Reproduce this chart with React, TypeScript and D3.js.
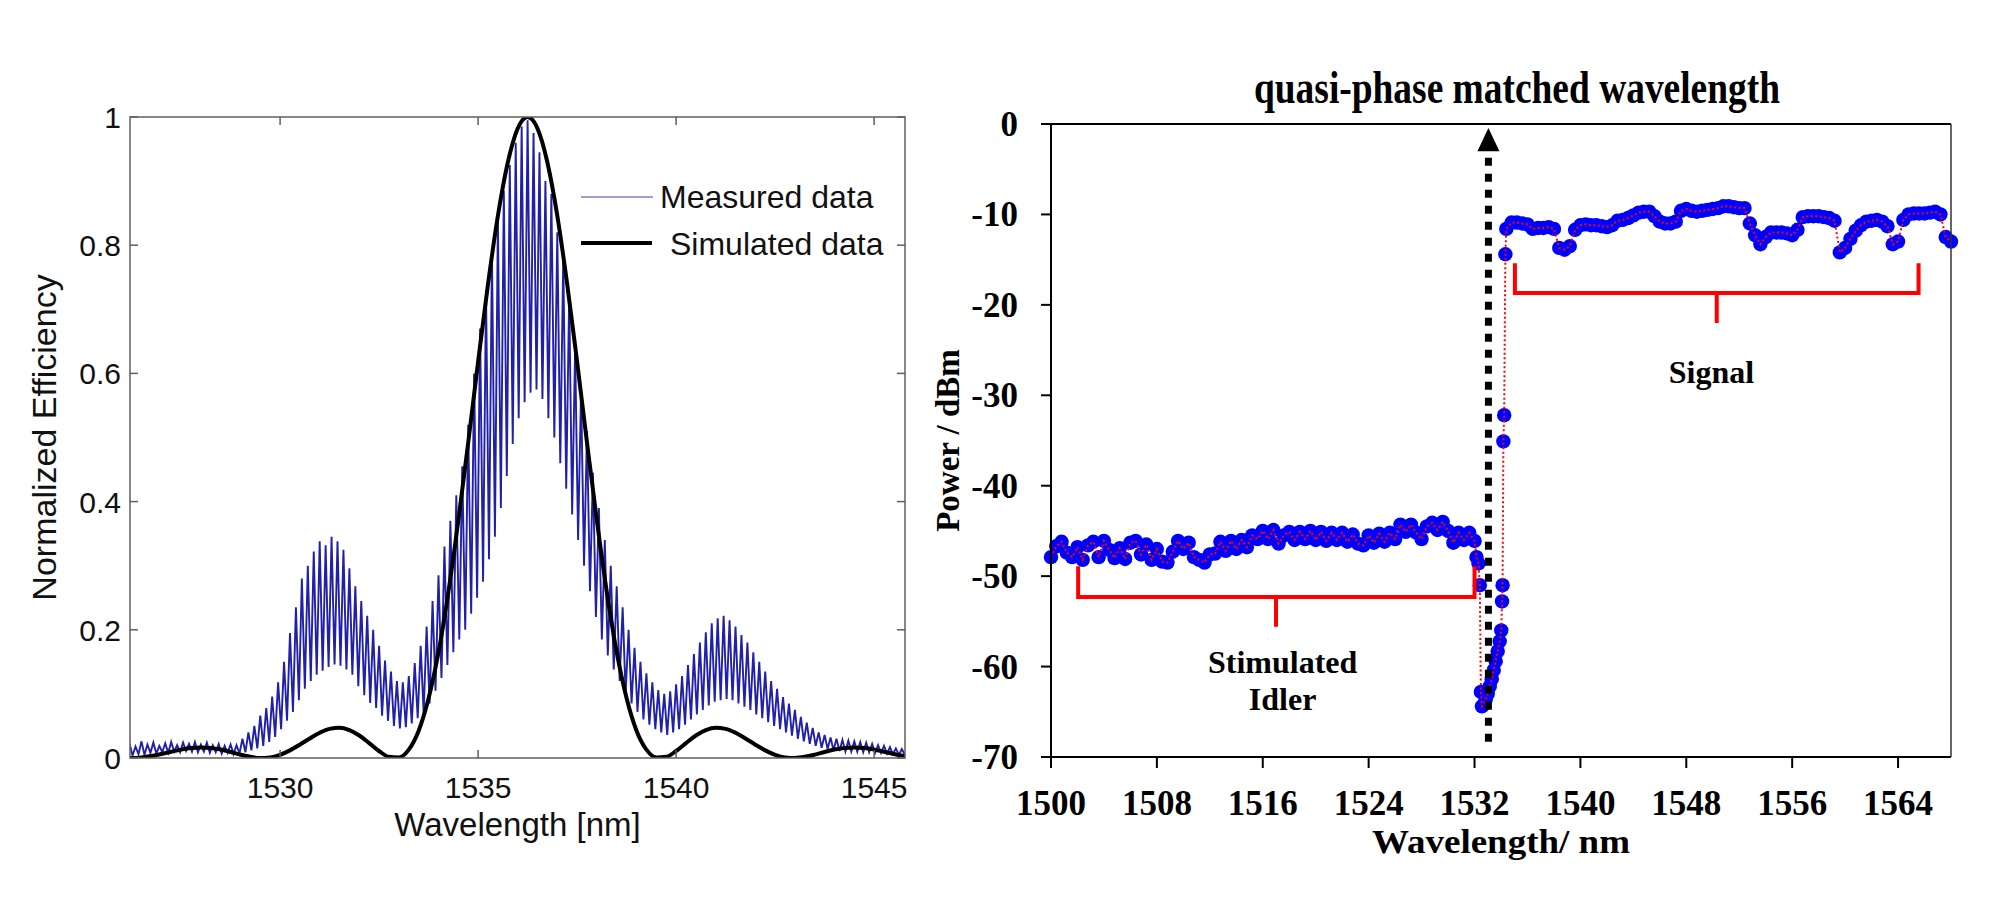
import React from "react";
import * as d3 from "d3";

// ---------- Left panel: normalized conversion efficiency ----------
const effXTicks = [1530, 1535, 1540, 1545];
const effYTicks = [0, 0.2, 0.4, 0.6, 0.8, 1];
const effYTickLabels = ["0", "0.2", "0.4", "0.6", "0.8", "1"];

// simulated sinc^2 response, sampled every 0.25 nm from 1526.0 nm
const simStart = 1526.0;
const simStep = 0.25;
const simulated = [
  0.0004, 0.0, 0.0009, 0.0031, 0.0062, 0.0098, 0.0131, 0.0155, 0.0165, 0.0157,
  0.0132, 0.0094, 0.0052, 0.0018, 0.0001, 0.0009, 0.005, 0.0119, 0.0208, 0.0305,
  0.0394, 0.0455, 0.0471, 0.0435, 0.0351, 0.0233, 0.0109, 0.0018, 0.0009, 0.0131,
  0.0426, 0.0931, 0.165, 0.259, 0.37, 0.492, 0.618, 0.739, 0.846, 0.929,
  0.982, 1.0, 0.982, 0.929, 0.846, 0.739, 0.618, 0.492, 0.37, 0.259,
  0.165, 0.0931, 0.0426, 0.0131, 0.0009, 0.0018, 0.0109, 0.0233, 0.0351, 0.0435,
  0.0471, 0.0455, 0.0394, 0.0305, 0.0208, 0.0119, 0.005, 0.0009, 0.0001, 0.0018,
  0.0052, 0.0094, 0.0132, 0.0157, 0.0165, 0.0155, 0.0131, 0.0098, 0.0062, 0.0031,
  0.0009,
];

// measured fringes: one maximum every 0.15 nm from 1526.2 nm, minimum halfway between
const fringeStart = 1526.2;
const fringeStep = 0.15;
const measuredPeak = [
  0.022, 0.018, 0.026, 0.021, 0.024, 0.019, 0.023, 0.025, 0.02, 0.024,
  0.022, 0.025, 0.021, 0.024, 0.02, 0.022, 0.019, 0.021, 0.02, 0.03,
  0.04, 0.05, 0.066, 0.078, 0.096, 0.118, 0.15, 0.195, 0.235, 0.28,
  0.3, 0.322, 0.338, 0.332, 0.345, 0.338, 0.325, 0.296, 0.268, 0.245,
  0.222, 0.2, 0.175, 0.152, 0.135, 0.12, 0.118, 0.128, 0.148, 0.175,
  0.205, 0.245, 0.285, 0.33, 0.37, 0.41, 0.455, 0.52, 0.6, 0.67,
  0.73, 0.79, 0.84, 0.885, 0.925, 0.96, 0.985, 0.995, 0.975, 0.945,
  0.9, 0.88, 0.82, 0.78, 0.72, 0.64, 0.575, 0.51, 0.445, 0.39,
  0.34, 0.3, 0.268, 0.235, 0.2, 0.172, 0.15, 0.132, 0.118, 0.106,
  0.1, 0.104, 0.115, 0.128, 0.145, 0.162, 0.18, 0.196, 0.21, 0.218,
  0.222, 0.215, 0.205, 0.192, 0.18, 0.165, 0.15, 0.135, 0.12, 0.108,
  0.095, 0.085, 0.075, 0.064, 0.055, 0.047, 0.04, 0.036, 0.032, 0.03,
  0.028, 0.027, 0.026, 0.025, 0.024, 0.022, 0.02, 0.019, 0.017, 0.015,
  0.014,
];
const measuredDip = [
  0.004, 0.006, 0.005, 0.008, 0.007, 0.009, 0.008, 0.01, 0.009, 0.011,
  0.01, 0.009, 0.01, 0.008, 0.009, 0.007, 0.008, 0.006, 0.007, 0.009,
  0.012, 0.015, 0.019, 0.025, 0.033, 0.045, 0.058, 0.072, 0.09, 0.108,
  0.12, 0.13, 0.136, 0.142, 0.146, 0.144, 0.138, 0.13, 0.112, 0.098,
  0.086, 0.078, 0.066, 0.058, 0.05, 0.046, 0.048, 0.054, 0.062, 0.07,
  0.085, 0.105, 0.125, 0.145, 0.165, 0.185, 0.2, 0.225, 0.25, 0.275,
  0.31, 0.345, 0.39, 0.44, 0.49, 0.53, 0.555, 0.57, 0.575, 0.56,
  0.53, 0.5, 0.46, 0.42, 0.38, 0.34, 0.3, 0.26, 0.22, 0.185,
  0.16, 0.138, 0.12, 0.1, 0.085, 0.072, 0.06, 0.052, 0.045, 0.04,
  0.036, 0.04, 0.045, 0.052, 0.06, 0.068, 0.075, 0.082, 0.088, 0.09,
  0.092, 0.09, 0.085, 0.08, 0.075, 0.068, 0.062, 0.056, 0.05, 0.045,
  0.04, 0.035, 0.03, 0.026, 0.022, 0.019, 0.016, 0.014, 0.012, 0.011,
  0.01, 0.01, 0.01, 0.009, 0.009, 0.008, 0.008, 0.007, 0.006, 0.005,
  0.005,
];

// ---------- Right panel: output power spectrum ----------
const powXTicks = [1500, 1508, 1516, 1524, 1532, 1540, 1548, 1556, 1564];
const powYTicks = [0, -10, -20, -30, -40, -50, -60, -70];

// idler band, one sample every 0.4 nm from 1500 nm
const idlerStart = 1500;
const idlerStep = 0.4;
const idlerPower = [
  -47.9, -46.7, -46.2, -47.4, -47.9, -46.8, -48.2, -46.6, -46.2, -47.9,
  -46.1, -47.1, -48.0, -46.9, -48.1, -46.3, -46.1, -47.6, -46.5, -48.2,
  -47.0, -48.4, -48.5, -47.3, -46.1, -47.0, -46.3, -47.9, -48.2, -48.5,
  -47.6, -47.5, -46.2, -47.2, -46.1, -47.0, -46.0, -46.8, -45.5, -45.9,
  -45.0, -45.9, -44.9, -46.4, -45.5, -45.1, -46.0, -45.1, -45.9, -45.0,
  -46.0, -45.1, -46.1, -45.2, -46.0, -45.2, -46.2, -45.4, -46.4, -46.6,
  -45.5, -46.3, -45.3, -46.2, -45.2, -45.9, -44.3, -45.1, -44.3, -45.2,
  -45.9, -44.5, -44.1, -44.9, -44.0, -45.0, -46.3, -45.2, -46.0, -45.2,
  -46.1,
];

// samples around the pump / phase-matching edge
const edgeWl = [
  1532.15, 1532.3, 1532.4, 1532.48, 1532.56, 1532.7, 1532.85, 1533.0, 1533.15, 1533.3,
  1533.45, 1533.6, 1533.75, 1533.9, 1534.02, 1534.08, 1534.12, 1534.18, 1534.24, 1534.33,
];
const edgePower = [
  -47.9, -48.6, -51.0, -62.8, -64.4, -64.2, -63.6, -63.0, -62.2, -61.4,
  -60.4, -59.4, -58.3, -57.2, -56.0, -52.8, -51.0, -35.1, -32.2, -14.4,
];

// signal band, one sample every 0.4 nm from 1534.4 nm
const signalStart = 1534.4;
const signalStep = 0.4;
const signalPower = [
  -11.6, -10.9, -10.9, -11.0, -11.1, -11.6, -11.5, -11.5, -11.4, -11.6,
  -13.7, -13.9, -13.5, -11.7, -11.2, -11.1, -11.2, -11.2, -11.3, -11.4,
  -11.2, -10.7, -10.6, -10.4, -10.1, -9.8, -9.7, -9.7, -10.2, -10.8,
  -11.0, -11.0, -10.8, -9.6, -9.4, -9.6, -9.7, -9.6, -9.5, -9.4,
  -9.3, -9.1, -9.1, -9.2, -9.3, -9.3, -11.0, -12.3, -13.3, -12.5,
  -12.0, -12.0, -12.0, -12.1, -12.3, -11.7, -10.3, -10.2, -10.2, -10.2,
  -10.3, -10.4, -10.7, -14.2, -13.7, -12.7, -11.8, -11.2, -10.8, -10.7,
  -10.6, -10.8, -11.3, -13.3, -13.0, -10.6, -10.0, -9.9, -9.9, -9.9,
  -9.8, -9.7, -10.0, -12.5, -13.0,
];

const qpmWavelength = 1533.05;
const qpmArrowBottom = -68.3;
const qpmArrowTip = -0.45;
const qpmHeadBase = -3.0;

// bracket annotations: [from, to, centre] in nm and [top, bar, stemEnd] in dBm
const idlerBracketWl = [1502.05, 1532.0, 1517.0];
const idlerBracketDb = [-48.9, -52.3, -55.6];
const signalBracketWl = [1535.05, 1565.55, 1550.3];
const signalBracketDb = [-15.4, -18.7, -22.0];

type Pt = [number, number];

const SANS = "'Liberation Sans', Arial, Helvetica, sans-serif";
const SERIF = "'Liberation Serif', 'Times New Roman', Times, serif";

export default function App() {
  // left panel scales
  const xL = d3.scaleLinear().domain([1526.21, 1545.78]).range([130, 905]);
  const yL = d3.scaleLinear().domain([0, 1]).range([758, 117]);
  const [lx0, lx1] = xL.range();
  const [ly0, ly1] = yL.range();

  const measuredPts: Pt[] = [];
  measuredPeak.forEach((v, i) => {
    const wl = fringeStart + i * fringeStep;
    measuredPts.push([wl, v]);
    measuredPts.push([wl + fringeStep / 2, measuredDip[i]]);
  });
  const simPts: Pt[] = simulated.map((v, i) => [simStart + i * simStep, v]);

  const measuredLine = d3
    .line<Pt>()
    .x((d) => xL(d[0]))
    .y((d) => yL(d[1]));
  const simLine = d3
    .line<Pt>()
    .x((d) => xL(d[0]))
    .y((d) => yL(d[1]))
    .curve(d3.curveMonotoneX);

  // right panel scales
  const xR = d3.scaleLinear().domain([1500, 1568]).range([1051, 1951]);
  const yR = d3.scaleLinear().domain([-70, 0]).range([757, 124]);
  const [rx0, rx1] = xR.range();
  const [ry0, ry1] = yR.range();

  const powerPts: Pt[] = [
    ...idlerPower.map((v, i) => [idlerStart + i * idlerStep, v] as Pt),
    ...edgeWl.map((w, i) => [w, edgePower[i]] as Pt),
    ...signalPower.map((v, i) => [signalStart + i * signalStep, v] as Pt),
  ];
  const powerLine = d3
    .line<Pt>()
    .x((d) => xR(d[0]))
    .y((d) => yR(d[1]));

  const bracketPath = (wl: number[], db: number[]) => {
    const [a, b, c] = wl.map((w) => xR(w));
    const [t, m, s] = db.map((v) => yR(v));
    return `M${a},${t}V${m}H${b}V${t}M${c},${m}V${s}`;
  };

  const ax = xR(qpmWavelength);
  const arrowBottomY = yR(qpmArrowBottom);
  const arrowTipY = yR(qpmArrowTip);
  const arrowBaseY = yR(qpmHeadBase);

  const frameGrey = "#5f5f5f";

  return (
    <svg
      width={2000}
      height={900}
      viewBox="0 0 2000 900"
      style={{ position: "absolute", left: 0, top: 0, background: "#fff" }}
    >
      <rect x={0} y={0} width={2000} height={900} fill="#fff" />
      <defs>
        <clipPath id="effClip">
          <rect x={lx0} y={ly1} width={lx1 - lx0} height={ly0 - ly1} />
        </clipPath>
      </defs>

      {/* ----- left panel ----- */}
      <g clipPath="url(#effClip)">
        <path
          d={measuredLine(measuredPts) || ""}
          fill="none"
          stroke="#2020a8"
          strokeWidth={1.9}
        />
        <path
          d={simLine(simPts) || ""}
          fill="none"
          stroke="#000"
          strokeWidth={4}
          strokeLinejoin="round"
        />
      </g>
      <rect
        x={lx0}
        y={ly1}
        width={lx1 - lx0}
        height={ly0 - ly1}
        fill="none"
        stroke={frameGrey}
        strokeWidth={1.5}
      />
      {effXTicks.map((t) => (
        <g key={`lx${t}`}>
          <line x1={xL(t)} x2={xL(t)} y1={ly0} y2={ly0 - 8} stroke={frameGrey} strokeWidth={1.5} />
          <line x1={xL(t)} x2={xL(t)} y1={ly1} y2={ly1 + 8} stroke={frameGrey} strokeWidth={1.5} />
          <text
            x={xL(t)}
            y={798}
            textAnchor="middle"
            fontFamily={SANS}
            fontSize={30}
            fill="#111"
          >
            {t}
          </text>
        </g>
      ))}
      {effYTicks.map((t, i) => (
        <g key={`ly${t}`}>
          <line x1={lx0} x2={lx0 + 8} y1={yL(t)} y2={yL(t)} stroke={frameGrey} strokeWidth={1.5} />
          <line x1={lx1} x2={lx1 - 8} y1={yL(t)} y2={yL(t)} stroke={frameGrey} strokeWidth={1.5} />
          <text
            x={121}
            y={yL(t) + 11}
            textAnchor="end"
            fontFamily={SANS}
            fontSize={30}
            fill="#111"
          >
            {effYTickLabels[i]}
          </text>
        </g>
      ))}
      <text
        x={(lx0 + lx1) / 2}
        y={836}
        textAnchor="middle"
        fontFamily={SANS}
        fontSize={33}
        fill="#111"
      >
        Wavelength [nm]
      </text>
      <text
        transform={`translate(56,${(ly0 + ly1) / 2}) rotate(-90)`}
        textAnchor="middle"
        fontFamily={SANS}
        fontSize={34}
        fill="#111"
      >
        Normalized Efficiency
      </text>

      {/* legend */}
      <line x1={581} x2={653} y1={197} y2={197} stroke="#8080c4" strokeWidth={1.5} />
      <text x={660} y={208} fontFamily={SANS} fontSize={32} fill="#111">
        Measured data
      </text>
      <line x1={581} x2={652} y1={243} y2={243} stroke="#000" strokeWidth={4} />
      <text x={670} y={255} fontFamily={SANS} fontSize={32} fill="#111">
        Simulated data
      </text>

      {/* ----- right panel ----- */}
      <text
        x={1254}
        y={103}
        fontFamily={SERIF}
        fontWeight="bold"
        fontSize={46}
        textLength={526}
        lengthAdjust="spacingAndGlyphs"
        fill="#000"
      >
        quasi-phase matched wavelength
      </text>

      {/* measured power samples */}
      <g>
        {powerPts.map((d, i) => (
          <circle key={`p${i}`} cx={xR(d[0])} cy={yR(d[1])} r={7.2} fill="#0000ff" />
        ))}
      </g>
      <path
        d={powerLine(powerPts) || ""}
        fill="none"
        stroke="#ff0000"
        strokeWidth={2}
        strokeDasharray="2 2.5"
      />

      {/* brackets */}
      <path
        d={bracketPath(idlerBracketWl, idlerBracketDb)}
        fill="none"
        stroke="#ff0000"
        strokeWidth={4}
      />
      <path
        d={bracketPath(signalBracketWl, signalBracketDb)}
        fill="none"
        stroke="#ff0000"
        strokeWidth={4}
      />
      <text
        x={xR(1517.5)}
        y={yR(-60.7)}
        textAnchor="middle"
        fontFamily={SERIF}
        fontWeight="bold"
        fontSize={32}
        fill="#000"
      >
        Stimulated
      </text>
      <text
        x={xR(1517.5)}
        y={yR(-64.8)}
        textAnchor="middle"
        fontFamily={SERIF}
        fontWeight="bold"
        fontSize={32}
        fill="#000"
      >
        Idler
      </text>
      <text
        x={xR(1549.9)}
        y={yR(-28.6)}
        textAnchor="middle"
        fontFamily={SERIF}
        fontWeight="bold"
        fontSize={32}
        fill="#000"
      >
        Signal
      </text>

      {/* phase-matching marker */}
      <line
        x1={ax}
        x2={ax}
        y1={arrowBottomY}
        y2={arrowBaseY + 2}
        stroke="#000"
        strokeWidth={7}
        strokeDasharray="8 8"
      />
      <path
        d={`M${ax},${arrowTipY}L${ax - 11},${arrowBaseY}L${ax + 11},${arrowBaseY}Z`}
        fill="#000"
      />

      {/* axes frame */}
      <line x1={rx0 - 10} x2={rx1} y1={ry1} y2={ry1} stroke="#000" strokeWidth={2} />
      <line x1={rx0 - 10} x2={rx1} y1={ry0} y2={ry0} stroke="#000" strokeWidth={2} />
      <line x1={rx0} x2={rx0} y1={ry1} y2={ry0} stroke="#000" strokeWidth={2} />
      <line x1={rx1} x2={rx1} y1={ry1} y2={ry0} stroke="#333" strokeWidth={1.5} />
      {powYTicks.map((t) => (
        <g key={`ry${t}`}>
          <line x1={rx0 - 10} x2={rx0} y1={yR(t)} y2={yR(t)} stroke="#000" strokeWidth={2} />
          <text
            x={1018}
            y={yR(t) + 12}
            textAnchor="end"
            fontFamily={SERIF}
            fontWeight="bold"
            fontSize={35}
            fill="#000"
          >
            {t}
          </text>
        </g>
      ))}
      {powXTicks.map((t) => (
        <g key={`rx${t}`}>
          <line x1={xR(t)} x2={xR(t)} y1={ry0} y2={ry0 + 11} stroke="#000" strokeWidth={2} />
          <text
            x={xR(t)}
            y={815}
            textAnchor="middle"
            fontFamily={SERIF}
            fontWeight="bold"
            fontSize={35}
            fill="#000"
          >
            {t}
          </text>
        </g>
      ))}
      <text
        x={(rx0 + rx1) / 2}
        y={853}
        textAnchor="middle"
        fontFamily={SERIF}
        fontWeight="bold"
        fontSize={34}
        textLength={258}
        lengthAdjust="spacingAndGlyphs"
        fill="#000"
      >
        Wavelength/ nm
      </text>
      <text
        transform={`translate(959,${(ry0 + ry1) / 2}) rotate(-90)`}
        textAnchor="middle"
        fontFamily={SERIF}
        fontWeight="bold"
        fontSize={33}
        fill="#000"
      >
        Power / dBm
      </text>
    </svg>
  );
}
